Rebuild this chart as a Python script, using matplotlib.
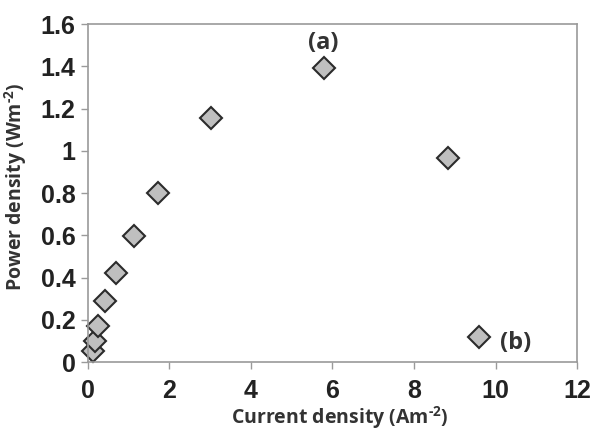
import matplotlib
matplotlib.use("Agg")
import matplotlib.pyplot as plt

# values
current_density = [0.13, 0.18, 0.24, 0.42, 0.70, 1.13, 1.71, 3.01, 5.79, 8.83, 9.60]
power_density = [0.05, 0.10, 0.17, 0.29, 0.42, 0.595, 0.80, 1.155, 1.393, 0.967, 0.119]

x_ticks = [0, 2, 4, 6, 8, 10, 12]
y_ticks = [0, 0.2, 0.4, 0.6, 0.8, 1.0, 1.2, 1.4, 1.6]
y_tick_labels = ["0", "0.2", "0.4", "0.6", "0.8", "1", "1.2", "1.4", "1.6"]

notes = ["(a)", "(b)"]
note_x = [5.78, 10.49]
note_y = [1.51, 0.09]

plt.rcParams["mathtext.fontset"] = "custom"
plt.rcParams["mathtext.rm"] = "Open Sans:bold"
plt.rcParams["mathtext.bf"] = "Open Sans:bold"
plt.rcParams["mathtext.default"] = "bf"

SPINE = "#9a9a9a"
LABEL_FONT = dict(family="Open Sans", weight="bold", size=14, color="#333333")

fig = plt.figure(figsize=(5.9, 4.32), dpi=100)
ax = fig.add_axes([0.149, 0.162, 0.829, 0.782])

ax.plot(current_density, power_density, linestyle="none", marker="D",
        markersize=10.8, markerfacecolor="#bfbfbf", markeredgecolor="#2b2b2b",
        markeredgewidth=1.5, clip_on=False)

for txt, x, y in zip(notes, note_x, note_y):
    ax.text(x, y, txt, ha="center", va="center",
            family="Open Sans", weight="bold", size=17, color="#333333")

ax.set_xlim(0, 12)
ax.set_ylim(0, 1.6)
ax.set_xticks(x_ticks)
ax.set_yticks(y_ticks)
ax.set_yticklabels(y_tick_labels)

for lab in ax.get_xticklabels() + ax.get_yticklabels():
    lab.set_family("Liberation Sans")
    lab.set_weight("bold")
    lab.set_fontsize(18)
    lab.set_color("#222222")

ax.tick_params(axis="x", direction="out", length=5, width=1, color=SPINE, pad=7)
ax.tick_params(axis="y", direction="out", length=5, width=1, color=SPINE, pad=4)

for side in ["left", "right", "top", "bottom"]:
    ax.spines[side].set_color(SPINE)
    ax.spines[side].set_linewidth(1.2)

ax.set_xlabel(r"Current density (Am$^{\text{-2}}$)", **LABEL_FONT)
ax.set_ylabel(r"Power density (Wm$^{\text{-2}}$)", **LABEL_FONT)
ax.xaxis.set_label_coords(0.515, -0.125)
ax.yaxis.set_label_coords(-0.12, 0.52)

fig.savefig("out.png", dpi=100)
